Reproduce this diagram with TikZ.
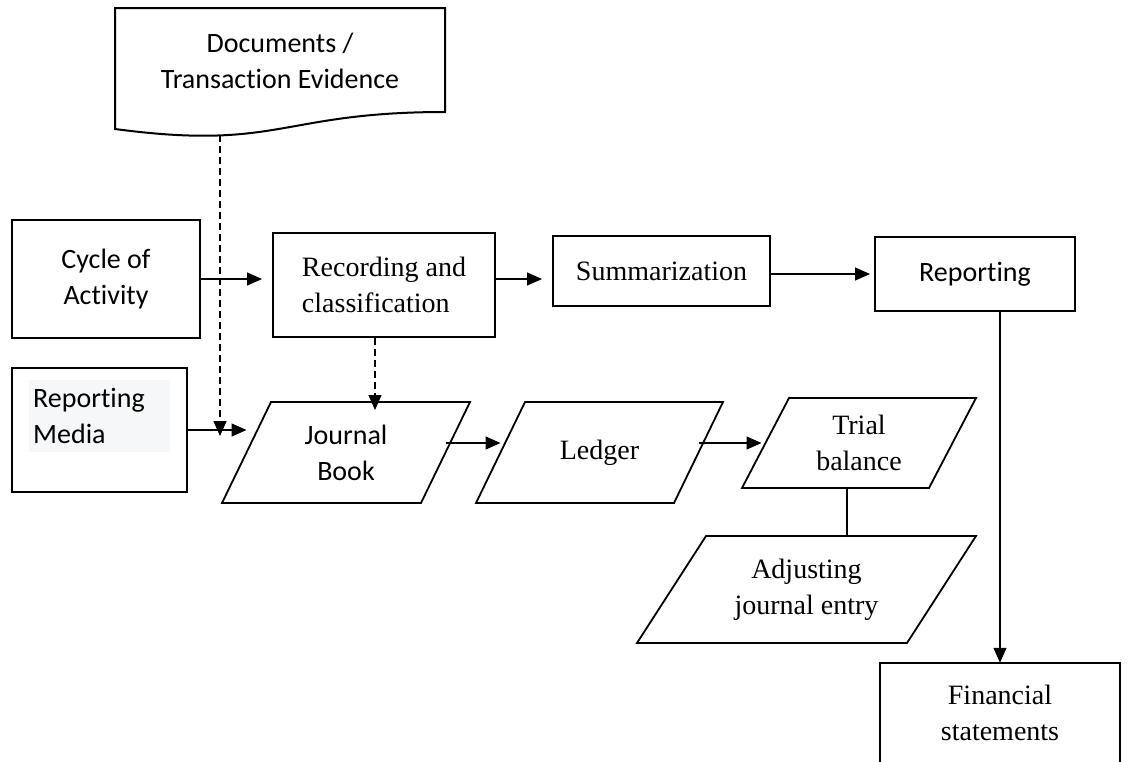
\documentclass[tikz,border=0pt]{standalone}
\usepackage{fontspec}
\setmainfont{Liberation Serif}
\newfontfamily\calibri{Carlito}[Ligatures=NoCommon]
\usetikzlibrary{arrows.meta}
\definecolor{mediabg}{HTML}{F6F7F9}
\tikzset{
  box/.style={draw,line width=2pt,inner sep=0pt,align=center,font=\fontsize{28}{36}\selectfont},
  sbox/.style={box,font=\calibri\fontsize{28}{36}\selectfont},
  slant/.style={box,draw=none},
  flow/.style={line width=1.2pt,->},
  dflow/.style={flow,dash pattern=on 7pt off 4pt},
}
% outline of a slanted box: node name, half of the slant
\newcommand\slantbox[2]{\draw[line width=1.8pt] ([xshift=#2]#1.north west) -- ([xshift=#2]#1.north east) -- ([xshift=-#2]#1.south east) -- ([xshift=-#2]#1.south west) -- cycle;}
\begin{document}
\begin{tikzpicture}[x=1pt,y=-1pt,>={Triangle[length=15pt,width=13pt]}]
		\useasboundingbox (0,0) rectangle (1128,761);
		% source documents
		\node[sbox,draw=none,minimum width=328,minimum height=104] (doc) at (280,61) {Documents /\\Transaction Evidence};
		\draw[line width=2pt] (doc.north west) -- (doc.north east) -- ([yshift=2pt]doc.south east) .. controls ([yshift=2pt]doc.south) and ([yshift=-37pt]doc.south) .. ([yshift=-15pt]doc.south west) -- cycle;
		\coordinate (docfoot) at (220,135);
		% top row
		\node[sbox,minimum width=188,minimum height=118] (cycle) at (106,279) {Cycle of\\Activity};
		\node[box,align=left,minimum width=222,minimum height=104] (record) at (384,285) {Recording and\\classification};
		\node[box,minimum width=217,minimum height=70] (summ) at (661.5,271) {Summarization};
		\node[sbox,minimum width=200,minimum height=74] (report) at (975,274) {Reporting};
		% bottom row
		\node[draw,line width=2pt,minimum width=175,minimum height=124] (rmedia) at (99.5,430) {};
		\node[fill=mediabg,font=\calibri\fontsize{28}{36}\selectfont,align=left,text width=133pt,inner xsep=4pt,inner ysep=2pt,minimum height=72,anchor=north west] (rmlabel) at (29,380) {Reporting\\Media};
		\node[slant,font=\calibri\fontsize{28}{36}\selectfont,minimum width=197,minimum height=99] (journal) at (346,452.5) {Journal\\Book};
		\node[slant,minimum width=196,minimum height=99] (ledger) at (599.5,452.5) {Ledger};
		\node[slant,minimum width=185,minimum height=88] (trial) at (859,443) {Trial\\balance};
		\node[slant,minimum width=268,minimum height=105] (adjust) at (806.5,589.5) {Adjusting\\journal entry};
		\slantbox{journal}{24.5pt}
		\slantbox{ledger}{24.5pt}
		\slantbox{trial}{23.5pt}
		\slantbox{adjust}{34.5pt}
		\node[font=\fontsize{28}{36}\selectfont,align=center,inner sep=0pt,minimum width=240,minimum height=100] (fin) at (1000,713) {Financial\\statements};
		\draw[line width=2pt] (fin.south west) -- (fin.north west) -- (fin.north east) -- (fin.south east);
		% connectors
		\draw[flow,shorten >=10pt] (cycle.east) -- (cycle.east -| record.west);
		\draw[flow,shorten >=10pt] (record.east |- cycle.east) -- (summ.west |- cycle.east);
		\draw[flow,shorten >=4pt] (summ.east |- report.west) -- (report.west);
		\draw[dflow,shorten >=-6pt] (docfoot) -- (docfoot |- rmedia.east);
		\draw[dflow,shorten >=-8pt] ([xshift=-9pt]record.south) -- ([xshift=-9pt]record.south |- journal.north);
		\draw[flow] (rmedia.east) -- (rmedia.east -| journal.west);
		\draw[flow] (journal.east |- trial.west) -- (ledger.west |- trial.west);
		\draw[flow,shorten >=4pt] (ledger.east |- trial.west) -- (trial.west);
		\draw[line width=1.2pt] ([xshift=-12pt]trial.south) -- ([xshift=-12pt]trial.south |- adjust.north);
		\draw[flow] (report.south -| fin.north) -- (fin.north);
	\end{tikzpicture}
\end{document}
